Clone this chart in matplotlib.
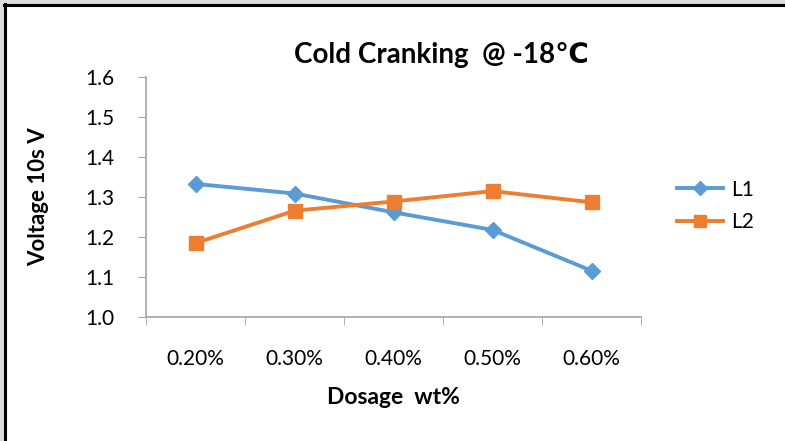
import matplotlib.pyplot as plt
from matplotlib.lines import Line2D
from matplotlib.patches import Rectangle

plt.rcParams['font.family'] = ['Lato', 'DejaVu Sans']

# dosage categories and measured 10 s voltage
dosage = ["0.20%", "0.30%", "0.40%", "0.50%", "0.60%"]
l1 = [1.332, 1.308, 1.261, 1.217, 1.115]
l2 = [1.184, 1.265, 1.288, 1.314, 1.286]

blue = "#5B9BD5"
orange = "#ED7D31"
grey = "#A6A6A6"

fig = plt.figure(figsize=(7.85, 4.41), dpi=100)
ax = fig.add_axes([146 / 785, 1 - 316.7 / 441, 495 / 785, 240 / 441])

x = list(range(len(dosage)))
ax.plot(x, l1, color=blue, lw=2.8, marker="D", ms=8, label="L1")
ax.plot(x, l2, color=orange, lw=2.8, marker="s", ms=10, label="L2")

ax.set_xlim(-0.5, len(dosage) - 0.5)
ax.set_ylim(1.0, 1.6)
ax.set_yticks([1.0, 1.1, 1.2, 1.3, 1.4, 1.5, 1.6])
ax.set_yticklabels([f"{v:.1f}" for v in ax.get_yticks()])
ax.set_xticks(x)
ax.set_xticklabels(dosage)
ax.set_xticks([i - 0.5 for i in range(len(dosage) + 1)], minor=True)

for s in ["top", "right"]:
    ax.spines[s].set_visible(False)
for s in ["left", "bottom"]:
    ax.spines[s].set_color(grey)
    ax.spines[s].set_linewidth(1.2)

ax.tick_params(axis="y", direction="out", length=6, color=grey, labelsize=15, pad=17)
ax.tick_params(axis="x", which="major", length=0, labelsize=15, pad=23)
ax.tick_params(axis="x", which="minor", direction="out", length=6, color=grey)

ax.set_xlabel("Dosage  wt%", fontsize=16.5, fontweight="bold", labelpad=13)
ax.set_ylabel("Voltage 10s V", fontsize=16, fontweight="bold", labelpad=26)
fig.text(441 / 785, 1 - 55 / 441, "Cold Cranking  @ -18\u2103", ha="center", va="center",
         fontsize=20, fontweight="bold")

handles = [Line2D([], [], color=blue, lw=2.8, marker="D", ms=7),
           Line2D([], [], color=orange, lw=2.8, marker="s", ms=9)]
fig.legend(handles, ["L1", "L2"], loc="center left", bbox_to_anchor=(658 / 785, 1 - 206 / 441),
           frameon=False, fontsize=15, handlelength=2.2, labelspacing=0.6, handletextpad=0.4)

# outer frame of the chart area
fig.patches.append(Rectangle((0, 0), 4 / 785, 1, transform=fig.transFigure,
                             color="#D9DDE0", zorder=0))
fig.patches.append(Rectangle((0, 1 - 3 / 441), 1, 3 / 441, transform=fig.transFigure,
                             color="#D9DDE0", zorder=0))
fig.add_artist(Line2D([5 / 785, 5 / 785], [0, 1 - 4 / 441], transform=fig.transFigure,
                      color="black", lw=2.2))
fig.add_artist(Line2D([4 / 785, 1], [1 - 4.5 / 441, 1 - 4.5 / 441], transform=fig.transFigure,
                      color="black", lw=2.2))

fig.savefig("out.png", dpi=100)
